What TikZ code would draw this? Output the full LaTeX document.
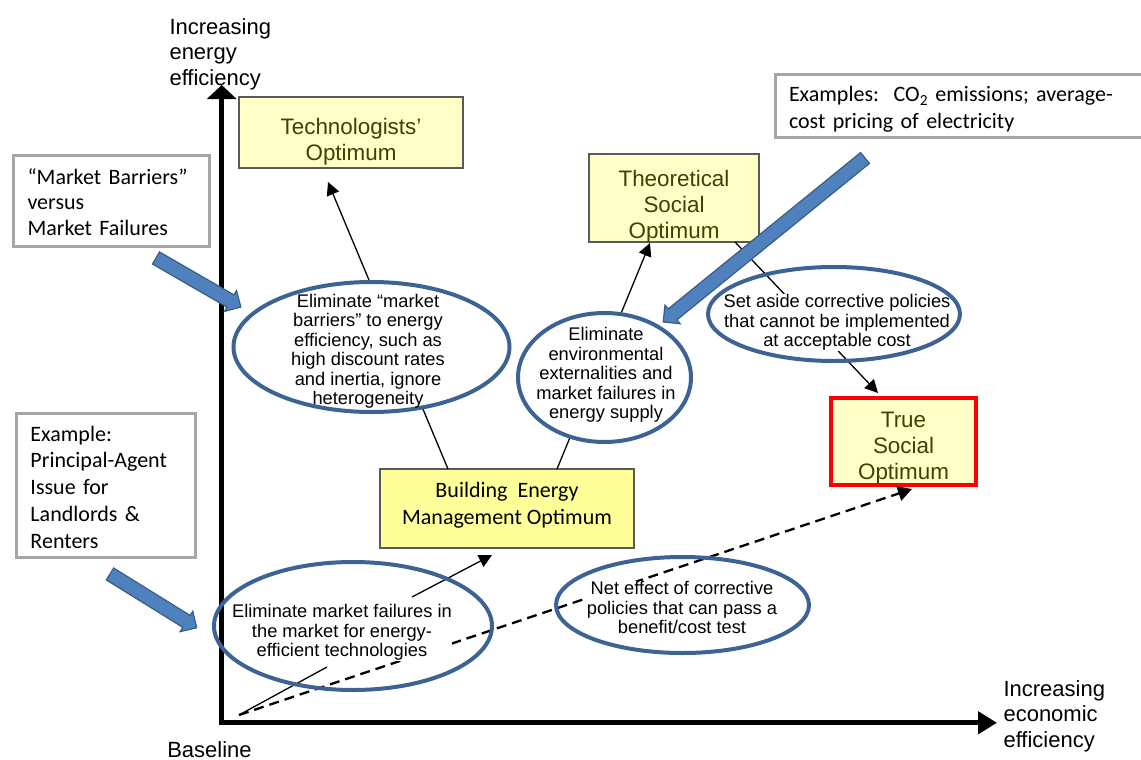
\documentclass[tikz,border=0pt]{standalone}
\usepackage{fontspec}
\setmainfont{Liberation Sans}
\newfontfamily\calibrifont{Carlito}
\usetikzlibrary{arrows.meta,shapes.geometric}
\definecolor{ellblue}{RGB}{61,99,148}
\definecolor{arrfill}{RGB}{79,129,189}
\definecolor{arrdraw}{RGB}{56,93,138}
\definecolor{paleyel}{RGB}{255,255,200}
\definecolor{bemyel}{RGB}{255,255,153}
\definecolor{txtolive}{RGB}{64,64,0}
\definecolor{callgray}{RGB}{166,166,166}
\definecolor{boxgray}{RGB}{90,90,90}
% block arrow: tail x, tail y, angle, length
\newcommand{\myblockarrow}[4]{%
  \draw[blockarrow, shift={(#1,#2)}, rotate=#3]
    (0,7) -- ({#4-12},7) -- ({#4-12},12) -- (#4,0) -- ({#4-12},-12) -- ({#4-12},-7) -- (0,-7) -- cycle;}
\begin{document}
\begin{tikzpicture}[x=1pt,y=-1pt,
  optbox/.style={rectangle, draw=boxgray, line width=1.2pt, fill=paleyel, text=txtolive, align=center, inner sep=0pt, font=\fontsize{22.4}{26}\selectfont},
  callout/.style={rectangle, draw=callgray, line width=3pt, fill=white, align=left, inner xsep=14pt, inner ysep=0pt},
  elltext/.style={inner sep=0.5pt, align=center, anchor=base, font=\fontsize{18.3}{19.5}\selectfont},
  ellout/.style={ellipse, draw=ellblue, line width=4pt, inner sep=0pt},
  conn/.style={line width=1.3pt, -{Triangle[length=13pt,width=13pt]}},
  blockarrow/.style={draw=arrdraw, fill=arrfill, line width=1.2pt, line join=miter},
  axislabel/.style={anchor=base west, align=left, font=\fontsize{22}{25.5}\selectfont}
]
\useasboundingbox (0,0) rectangle (1141,760);

% axes
\coordinate (origin) at (221.7,722.8);
\coordinate (ytip) at (221.7,85);
\coordinate (xtip) at (997,722.8);
\draw[line width=4.7pt, line join=miter, {Triangle[length=14pt,width=29pt]}-{Triangle[length=19pt,width=22pt]}] (ytip) -- (origin) -- (xtip);

% optimum boxes (baseline of last line placed via text height/depth)
\node[optbox, minimum width=224pt, minimum height=71pt, text height=57.5pt, text depth=2.5pt] (tech) at (351,132.5) {Technologists'\\Optimum};
\node[optbox, minimum width=170pt, minimum height=88pt, text height=82pt, text depth=2pt] (theo) at (674,198) {Theoretical\\Social\\Optimum};
\node[optbox, draw=red, line width=4pt, minimum width=145pt, minimum height=87pt, text height=77.5pt, text depth=2.5pt] (true) at (903.5,441.5) {True\\Social\\Optimum};
\node[optbox, fill=bemyel, text=black, font=\calibrifont\fontsize{22}{27}\selectfont, minimum width=254pt, minimum height=79pt, text height=50.5pt, text depth=19.5pt] (bem) at (507,508.5) {Building\ \ Energy\\Management Optimum};

% callouts
\node[callout, font=\calibrifont\fontsize{22}{25.5}\selectfont, text width=168pt, minimum height=91pt, text height=23pt, text depth=57pt] (mb) at (111.5,201) {“Market Barriers”\\versus\\Market Failures};
\node[callout, font=\calibrifont\fontsize{22}{26.75}\selectfont, text width=151pt, minimum height=144pt, text height=20.5pt, text depth=109.5pt] (pa) at (106,485.5) {Example:\\Principal-Agent\\Issue for\\Landlords \&\\Renters};
\node[callout, font=\calibrifont\fontsize{22}{27}\selectfont, text width=347pt, minimum height=63pt, text height=24pt, text depth=32pt] (ex) at (962.5,106) {Examples:\ \ CO\textsubscript{2} emissions; average-\\cost pricing of electricity};

% connector end points
\coordinate (base) at (239,715);
\coordinate (bemA) at (448,469);
\coordinate (techA) at (328,182);
\coordinate (bemB) at (557,469);
\coordinate (theoA) at (650,243);
\coordinate (theoB) at (735,242);
\coordinate (trueA) at (878,393);
\coordinate (e4in) at (327,667);
\coordinate (e4out) at (412,597);
\coordinate (bemC) at (492,555);
\coordinate (trueB) at (912,489);

% connectors
\draw[conn] (bemA) -- (techA);
\draw[conn] (bemB) -- (theoA);
\draw[conn] (theoB) -- (trueA);
\draw[line width=1.3pt] (base) -- (e4in);
\draw[conn] (e4out) -- (bemC);
\draw[line width=2.3pt, dash pattern=on 10pt off 6pt, -{Triangle[length=14pt,width=15pt]}] (base) -- (trueB);

% filled ellipses
\node[ellout, fill=white, minimum width=276pt, minimum height=130pt] (e1) at (371.5,347) {};
\node[ellout, fill=white, minimum width=173pt, minimum height=129pt] (e2) at (604.5,377.5) {};
\node[elltext] (t1) at (368,404.5) {Eliminate “market\\barriers” to energy\\efficiency, such as\\high discount rates\\and inertia, ignore\\heterogeneity};
\node[elltext] (t2) at (606,418.5) {Eliminate\\environmental\\externalities and\\market failures in\\energy supply};

% open ellipses with white text boxes
\node[elltext, fill=white] (t3) at (837,346.5) {Set aside corrective policies\\that cannot be implemented\\at acceptable cost};
\node[elltext, fill=white] (t4) at (342,656.5) {Eliminate market failures in\\the market for energy-\\efficient technologies};
\node[elltext, fill=white] (t5) at (682,633.5) {Net effect of corrective\\policies that can pass a\\benefit/cost test};
\node[ellout, minimum width=252pt, minimum height=94pt] (e3) at (834,314) {};
\node[ellout, minimum width=278pt, minimum height=128pt] (e4) at (353,626) {};
\node[ellout, minimum width=253pt, minimum height=96pt] (e5) at (682.5,605) {};

% axis labels
\node[axislabel] (ylab) at (166,85) {Increasing\\energy\\efficiency};
\node[axislabel] (xlab) at (1000,747) {Increasing\\economic\\efficiency};
\node[anchor=base, font=\fontsize{22}{25.5}\selectfont] (baselab) at (209.5,757) {Baseline};

% block arrows (tail x, tail y, angle, length)
\myblockarrow{156}{258}{-30}{98}
\myblockarrow{865}{158}{-140.9}{260}
\myblockarrow{110}{574}{-31.8}{102}
\end{tikzpicture}
\end{document}
